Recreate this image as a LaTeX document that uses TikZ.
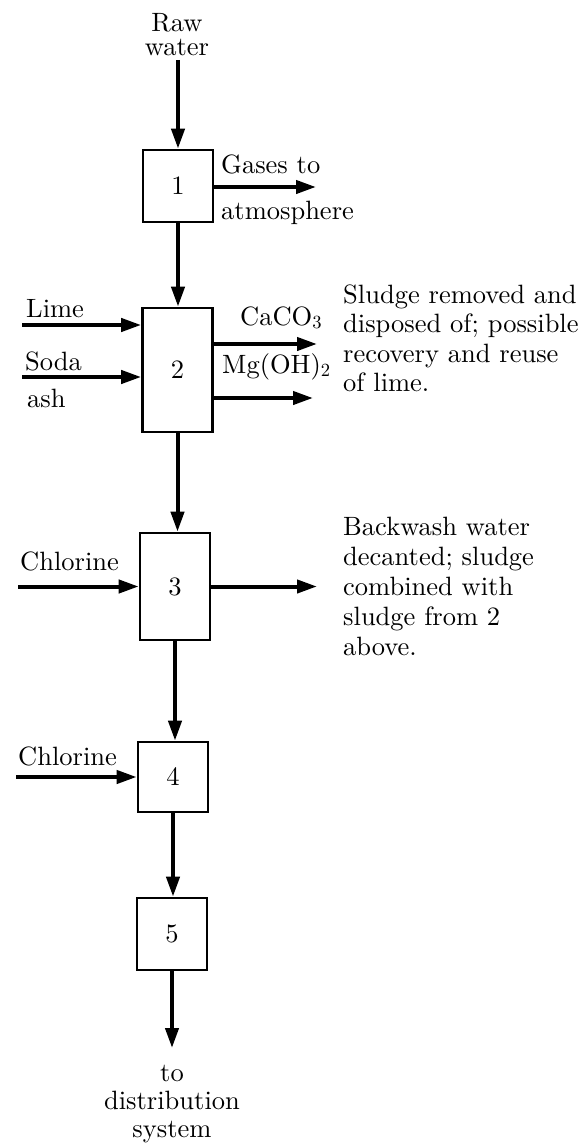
\documentclass[tikz,border=0pt]{standalone}
\usepackage{fontspec}
\setmainfont{lmroman10-regular.otf}
\usetikzlibrary{arrows.meta,positioning}
\tikzset{
    unit/.style={draw, rectangle, line width=2.6pt, minimum width=70pt, inner sep=0pt, font=\fontsize{26.5}{30}\selectfont},
    flow/.style={line width=4pt, -{Triangle[length=20pt,width=13pt]}},
    lbl/.style={inner sep=0pt, font=\fontsize{26.5}{30}\selectfont}
}
\begin{document}
\begin{tikzpicture}[x=1pt,y=-1pt]
        \useasboundingbox (0,0) rectangle (587,1145);
        \node[unit, minimum height=72pt] (u1) at (178,186) {1};
        \node[unit, minimum height=124pt] (u2) at (177.5,370) {2};
        \node[unit, minimum height=107pt] (u3) at (175,586.5) {3};
        \node[unit, minimum height=70pt] (u4) at (173,777) {4};
        \node[unit, minimum height=72pt] (u5) at (172,934) {5};
        \coordinate (rawin) at (178,60);
        \coordinate (gasout) at (316,187);
        \coordinate (limein) at (22,325);
        \coordinate (sodain) at (22,377);
        \coordinate (caout) at (317,344);
        \coordinate (mgout) at (313,398);
        \coordinate (clthreein) at (18,586.5);
        \coordinate (sludgeout) at (317,586.5);
        \coordinate (clfourin) at (16,777);
        \coordinate (distout) at (172,1048);
        \draw[flow] (rawin) -- (u1.north);
        \draw[flow] (gasout -| u1.east) -- (gasout);
        \draw[flow] (u1.south) -- (u1.south |- u2.north);
        \draw[flow] (limein) -- (limein -| u2.west);
        \draw[flow] (sodain) -- (sodain -| u2.west);
        \draw[flow] (caout -| u2.east) -- (caout);
        \draw[flow] (mgout -| u2.east) -- (mgout);
        \draw[flow] (u2.south) -- (u2.south |- u3.north);
        \draw[flow] (clthreein) -- (u3.west);
        \draw[flow] (u3.east) -- (sludgeout);
        \draw[flow] (u3.south) -- (u3.south |- u4.north);
        \draw[flow] (clfourin) -- (u4.west);
        \draw[flow] (u4.south) -- (u4.south |- u5.north);
        \draw[flow] (u5.south) -- (distout);
        \node[lbl, anchor=north, align=center, font=\fontsize{26.5}{24}\selectfont] (raw) at (177,13.5) {Raw\\water};
        \node[lbl, anchor=base west] (gases) at (221,173) {Gases to};
        \node[lbl, anchor=base west] (atm) at (221,219) {atmosphere};
        \node[lbl, anchor=base west] (lime) at (26,317) {Lime};
        \node[lbl, anchor=base west] (soda) at (25,370) {Soda};
        \node[lbl, anchor=base west] (ash) at (27,407) {ash};
        \node[lbl, anchor=base west] (caco) at (240,325) {CaCO\textsubscript{3}};
        \node[lbl, anchor=base west] (mgoh) at (222,373) {Mg(OH)\textsubscript{2}};
        \node[lbl, anchor=north west, align=left, font=\fontsize{26.5}{29.5}\selectfont] (sludge) at (343,284.6) {Sludge removed and\\disposed of; possible\\recovery and reuse\\of lime.};
        \node[lbl, anchor=base west] (clthree) at (20,570) {Chlorine};
        \node[lbl, anchor=north west, align=left, font=\fontsize{26.5}{30}\selectfont] (backwash) at (343,516.6) {Backwash water\\decanted; sludge\\combined with\\sludge from 2\\above.};
        \node[lbl, anchor=base west] (clfour) at (18,765) {Chlorine};
        \node[lbl, anchor=north, align=center, font=\fontsize{26.5}{28}\selectfont] (dist) at (172,1064.7) {to\\distribution\\system};
\end{tikzpicture}
\end{document}
